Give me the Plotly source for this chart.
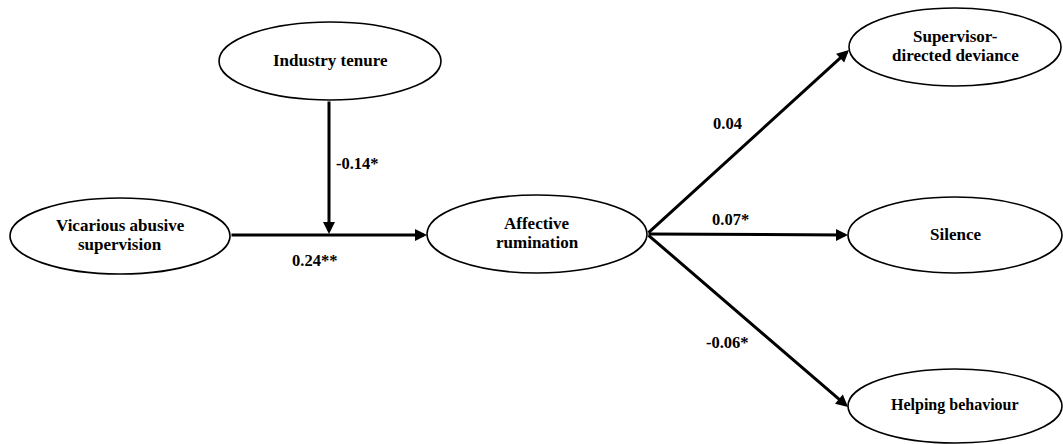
import plotly.graph_objects as go

# Data: nodes and path coefficients
node_names = ["Vicarious abusive<br>supervision", "Industry tenure", "Affective<br>rumination",
              "Supervisor-<br>directed deviance", "Silence", "Helping behaviour"]
path_from = [0, 2, 2, 2]
path_to = [2, 3, 4, 5]
path_coef = ["0.24**", "0.04", "0.07*", "-0.06*"]
moderation_coef = "-0.14*"

# Layout (pixel coordinates on a 1063x444 canvas)
W, H = 1063, 444
node_cx = [120, 330, 537, 955, 955, 955]
node_cy = [236, 61, 234, 47, 235, 406]
node_rx = [110, 111, 110, 106, 107, 107]
node_ry = [38, 39, 39, 39, 38, 37]
node_fs = [17, 17, 17, 17, 17, 16]
LINE_GAP = 19

FONT = "'Liberation Serif', 'Times New Roman', serif"

fig = go.Figure()
fig.add_trace(go.Scatter(x=[0, W], y=[0, H], mode="markers", marker=dict(opacity=0), hoverinfo="skip", showlegend=False))

shapes = []
annotations = []
for i, name in enumerate(node_names):
    shapes.append(dict(type="circle", xref="x", yref="y",
                       x0=node_cx[i] - node_rx[i], x1=node_cx[i] + node_rx[i],
                       y0=node_cy[i] - node_ry[i], y1=node_cy[i] + node_ry[i],
                       line=dict(color="black", width=1.6), fillcolor="white", layer="below"))
    lines = name.split("<br>")
    n = len(lines)
    for k, ln in enumerate(lines):
        y = node_cy[i] + (k - (n - 1) / 2) * LINE_GAP - 1
        annotations.append(dict(x=node_cx[i], y=y, xref="x", yref="y", text="<b>" + ln + "</b>",
                                showarrow=False, font=dict(family=FONT, size=node_fs[i], color="black")))

def arrow(x0, y0, x1, y1):
    annotations.append(dict(x=x1, y=y1, ax=x0, ay=y0, xref="x", yref="y", axref="x", ayref="y",
                            text="", showarrow=True, arrowhead=2, arrowsize=0.8, arrowwidth=3,
                            arrowcolor="black", standoff=0, startstandoff=0))

# Paths from right edge of source to left edge of target
src_pt = {0: (node_cx[0] + node_rx[0], 235), 2: (node_cx[2] + node_rx[2], 234)}
tgt_pt = {2: (node_cx[2] - node_rx[2], 235), 3: (849, 50), 4: (node_cx[4] - node_rx[4], 235),
          5: (node_cx[5] - node_rx[5], 407)}
for f, t in zip(path_from, path_to):
    (x0, y0), (x1, y1) = src_pt[f], tgt_pt[t]
    arrow(x0, y0, x1, y1)

# Moderation arrow: from Industry tenure down to the main path
arrow(node_cx[1] - 1, node_cy[1] + node_ry[1], node_cx[1] - 1, 234)

label_pos = [(314, 260), (727, 123), (730, 219), (727, 342)]
for (lx, ly), c in zip(label_pos, path_coef):
    annotations.append(dict(x=lx, y=ly, xref="x", yref="y", text="<b>" + c + "</b>", showarrow=False,
                            font=dict(family=FONT, size=16.5, color="black")))
annotations.append(dict(x=357, y=163, xref="x", yref="y", text="<b>" + moderation_coef + "</b>", showarrow=False,
                        font=dict(family=FONT, size=16.5, color="black")))

fig.update_layout(
    width=W, height=H, margin=dict(l=0, r=0, t=0, b=0),
    font=dict(family=FONT),
    paper_bgcolor="white", plot_bgcolor="white",
    xaxis=dict(range=[0, W], visible=False, fixedrange=True),
    yaxis=dict(range=[H, 0], visible=False, fixedrange=True),
    shapes=shapes, annotations=annotations, showlegend=False,
)
fig.write_html("out.html", config={"displayModeBar": False},
               post_script="document.body.style.margin='0';document.body.style.overflow='hidden';")
